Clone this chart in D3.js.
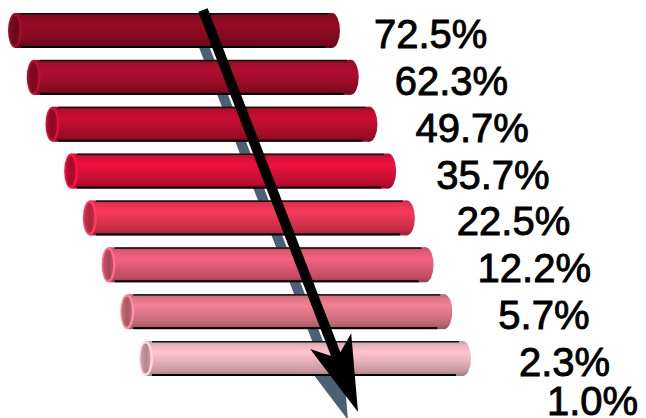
<!DOCTYPE html>
<html><head><meta charset="utf-8">
<script src="https://cdn.jsdelivr.net/npm/d3@7"></script>
<style>html,body{margin:0;padding:0;background:#fff;overflow:hidden}</style>
</head><body><svg id="c" width="646" height="418"></svg>
<script>
// ---- data ----
const values = [72.5, 62.3, 49.7, 35.7, 22.5, 12.2, 5.7, 2.3, 1.0];
const tickLabels = ["72.5%", "62.3%", "49.7%", "35.7%", "22.5%", "12.2%", "5.7%", "2.3%", "1.0%"];
const barSteps = [0, 1, 2, 3, 4, 5, 6, 7];
const barColors = ["#8a0b22", "#a00c2a", "#b80d2f", "#d81038", "#e23452", "#e05a74", "#dc7687", "#eab2bd"];

// ---- layout ----
const W = 646, H = 418;
const svg = d3.select("#c");
const defs = svg.append("defs");
const yTop = d3.scaleLinear().domain([0, 7]).range([13, 341]);
const xLeft = d3.scaleLinear().domain([0, 7]).range([8, 139]);
const barLen = 332, barH = 35;
const labelX = d3.scaleLinear().domain([0, 7, 8]).range([374, 519, 547]);
const labelY = d3.scaleLinear().domain([0, 7, 8]).range([48, 376, 415]);

// gradients
barSteps.forEach(i => {
  const c = d3.color(barColors[i]);
  const g = defs.append("linearGradient").attr("id", "body" + i)
    .attr("x1", 0).attr("y1", 0).attr("x2", 0).attr("y2", 1);
  [[0, c.darker(0.4)], [0.12, c], [0.32, c.brighter(0.25)], [0.55, c], [0.85, c.darker(0.45)], [1, c.darker(1.1)]]
    .forEach(([o, col]) => g.append("stop").attr("offset", o).attr("stop-color", col.formatHex()));
  const f = defs.append("linearGradient").attr("id", "face" + i)
    .attr("x1", 0).attr("y1", 0).attr("x2", 1).attr("y2", 0);
  [[0, c.darker(0.3)], [0.6, c.darker(0.8)], [1, c.darker(0.4)]]
    .forEach(([o, col]) => f.append("stop").attr("offset", o).attr("stop-color", col.formatHex()));
});

// arrow geometry derived from the bar scales
const S = [xLeft(0) + 195, yTop(0) - 3];
const T = [xLeft(7) + 219, yTop(7) + 71];
const len = Math.hypot(T[0] - S[0], T[1] - S[1]);
const u = [(T[0] - S[0]) / len, (T[1] - S[1]) / len];
const n = [-u[1], u[0]];
const sw = 10, headL = 76, headW = 22, notch = 62;
const P = (base, a, b) => [base[0] + u[0] * a + n[0] * b, base[1] + u[1] * a + n[1] * b];
const arrowPts = [
  P(S, 0, -sw / 2), P(T, -notch, -sw / 2), P(T, -headL, -headW), T,
  P(T, -headL, headW), P(T, -notch, sw / 2), P(S, 0, sw / 2)
];
const line = d3.line();

// shadow (behind bars)
svg.append("path").attr("d", line(arrowPts) + "Z")
  .attr("fill", "#4b6074").attr("transform", "translate(-10,8)");

// bars
const bars = svg.selectAll("g.bar").data(barSteps).join("g").attr("class", "bar");
bars.each(function (i) {
  const g = d3.select(this);
  const c = d3.color(barColors[i]);
  const x0 = xLeft(i), y0 = yTop(i), x1 = x0 + barLen, cy = y0 + barH / 2;
  const erx = 7, crx = 8;
  g.append("rect").attr("x", x0 + erx).attr("y", y0).attr("width", barLen - erx - crx).attr("height", barH)
    .attr("fill", `url(#body${i})`);
  g.append("rect").attr("x", x0 + 13).attr("y", y0).attr("width", barLen - 25).attr("height", 1.5).attr("fill", "#111");
  g.append("rect").attr("x", x0 + 13).attr("y", y0 + barH - 2).attr("width", barLen - 28).attr("height", 2).attr("fill", "#000");
  // right cap
  g.append("ellipse").attr("cx", x1 - crx).attr("cy", cy).attr("rx", crx).attr("ry", barH / 2)
    .attr("fill", `url(#body${i})`);
  // left open end
  g.append("ellipse").attr("cx", x0 + erx).attr("cy", cy).attr("rx", erx).attr("ry", barH / 2)
    .attr("fill", c.brighter(0.5).formatHex());
  g.append("ellipse").attr("cx", x0 + erx - 0.5).attr("cy", cy).attr("rx", erx - 2).attr("ry", barH / 2 - 2.5)
    .attr("fill", `url(#face${i})`);
});

// arrow
svg.append("path").attr("d", line(arrowPts) + "Z").attr("fill", "#000");

// labels
svg.selectAll("text.lab").data(tickLabels).join("text").attr("class", "lab")
  .attr("x", (d, i) => labelX(i)).attr("y", (d, i) => labelY(i))
  .attr("font-family", "'Liberation Sans', Arial, sans-serif").attr("font-size", 40)
  .attr("fill", "#000").attr("stroke", "#000").attr("stroke-width", 0.9)
  .text(d => d);
</script>
</body></html>
